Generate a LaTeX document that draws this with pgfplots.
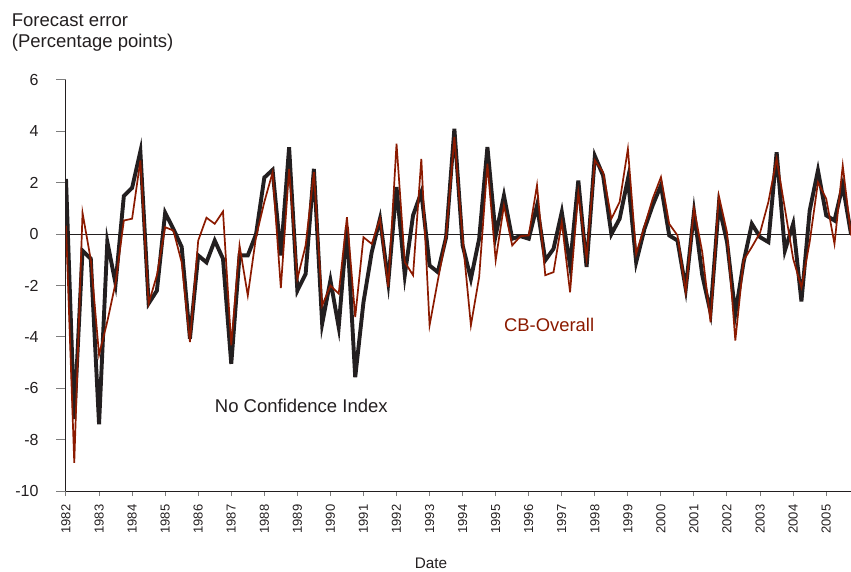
\documentclass[border=0pt]{standalone}
\usepackage{fontspec}
\setmainfont{Liberation Sans}
\usepackage{pgfplots}
\usepackage{pgfplotstable}
\pgfplotsset{compat=1.18}
\definecolor{cbred}{RGB}{139,26,0}
\definecolor{ncblack}{RGB}{35,31,32}
\definecolor{tickgray}{RGB}{125,125,125}
\pgfplotstableread{
x nci cb
1982.00 2.15 0.33
1982.25 -7.2 -8.9
1982.50 -0.64 0.83
1982.75 -0.96 -1.0
1983.00 -7.4 -4.7
1983.25 -0.3 -3.4
1983.50 -1.93 -1.9
1983.75 1.48 0.53
1984.00 1.8 0.6
1984.25 3.22 2.87
1984.50 -2.7 -2.7
1984.75 -2.2 -1.6
1985.00 0.83 0.27
1985.25 0.2 0.14
1985.50 -0.5 -1.1
1985.75 -4.07 -4.2
1986.00 -0.83 -0.25
1986.25 -1.1 0.64
1986.50 -0.25 0.4
1986.75 -0.96 0.88
1987.00 -5.05 -4.33
1987.25 -0.83 -0.44
1987.50 -0.83 -2.39
1987.75 0.0 -0.1
1988.00 2.2 1.25
1988.25 2.5 2.4
1988.50 -0.83 -2.1
1988.75 3.38 2.54
1989.00 -2.2 -1.74
1989.25 -1.55 -0.44
1989.50 2.54 2.41
1989.75 -3.49 -2.78
1990.00 -1.8 -2.0
1990.25 -3.62 -2.32
1990.50 0.27 0.66
1990.75 -5.57 -3.23
1991.00 -2.65 -0.12
1991.25 -0.7 -0.38
1991.50 0.6 0.6
1991.75 -1.87 -2.06
1992.00 1.83 3.52
1992.25 -1.6 -1.09
1992.50 0.73 -1.6
1992.75 1.63 2.93
1993.00 -1.22 -3.55
1993.25 -1.48 -1.8
1993.50 -0.12 -0.1
1993.75 4.1 3.78
1994.00 -0.44 -0.18
1994.25 -1.74 -3.55
1994.50 -0.18 -1.67
1994.75 3.39 2.74
1995.00 -0.05 -1.02
1995.25 1.5 1.12
1995.50 -0.18 -0.44
1995.75 -0.08 -0.08
1996.00 -0.18 -0.05
1996.25 1.12 1.9
1996.50 -1.02 -1.6
1996.75 -0.57 -1.48
1997.00 0.86 0.47
1997.25 -1.22 -2.26
1997.50 2.09 1.63
1997.75 -1.28 -0.96
1998.00 3.04 2.87
1998.25 2.28 2.41
1998.50 0.0 0.6
1998.75 0.6 1.25
1999.00 2.15 3.32
1999.25 -1.09 -0.77
1999.50 0.2 0.3
1999.75 1.12 1.38
2000.00 1.9 2.22
2000.25 -0.05 0.4
2000.50 -0.25 -0.05
2000.75 -2.13 -2.26
2001.00 0.86 0.99
2001.25 -1.6 -0.7
2001.50 -3.05 -3.43
2001.75 1.12 1.5
2002.00 -0.31 0.06
2002.25 -3.1 -4.14
2002.50 -1.09 -1.02
2002.75 0.4 -0.5
2003.00 -0.12 0.06
2003.25 -0.31 1.25
2003.50 3.19 2.93
2003.75 -0.64 0.99
2004.00 0.4 -0.96
2004.25 -2.62 -2.07
2004.50 0.92 -0.3
2004.75 2.48 2.02
2005.00 0.73 1.38
2005.25 0.53 -0.38
2005.50 1.9 2.67
2005.75 0.0 -0.05
}\data
\begin{document}
\begin{tikzpicture}[x=1pt,y=1pt]
\useasboundingbox (-66,-80) rectangle (785,491);
\begin{axis}[
  at={(0,0)}, anchor=south west,
  scale only axis, width=785pt, height=411pt,
  xmin=1982, xmax=2005.75, ymin=-10, ymax=6,
  axis x line*=bottom, axis y line*=left,
  axis line style={-, line width=1pt, color=ncblack},
  xtick={1982,...,2005}, ytick={-10,-8,...,6},
  tick align=outside,
  major tick length=10pt,
  xtick style={/pgfplots/major tick length=5pt},
  tick style={tickgray, line width=1pt},
  x tick label style={rotate=90, anchor=east, font=\fontsize{13}{15}\selectfont, text=ncblack},
  y tick label style={font=\fontsize{16}{19}\selectfont, text=ncblack, xshift=-14pt},
  /pgf/number format/assume math mode=true,
  /pgf/number format/1000 sep={},
]
\addplot[ncblack, line width=0.9pt, forget plot] coordinates {(1982,0) (2005.75,0)};
\addplot[ncblack, line width=3.9pt] table[x=x, y=nci] {\data};
\addplot[cbred, line width=1.7pt] table[x=x, y=cb] {\data};
\node[anchor=base west, text=cbred, font=\fontsize{18.4}{22}\selectfont, inner sep=0pt] at (axis cs:1995.25,-3.81) {CB-Overall};
\node[anchor=base west, text=ncblack, font=\fontsize{18.5}{22}\selectfont, inner sep=0pt] at (axis cs:1986.5,-6.96) {No Confidence Index};
\end{axis}
\node[anchor=base west, inner sep=0pt, text=ncblack, font=\fontsize{18.5}{22}\selectfont] at (-54.3,464.3) {Forecast error};
\node[anchor=base west, inner sep=0pt, text=ncblack, font=\fontsize{18.5}{22}\selectfont] at (-54.3,443.7) {(Percentage points)};
\node[anchor=base, inner sep=0pt, text=ncblack, font=\fontsize{15.3}{18}\selectfont] at (365,-77.5) {Date};
\end{tikzpicture}
\end{document}
